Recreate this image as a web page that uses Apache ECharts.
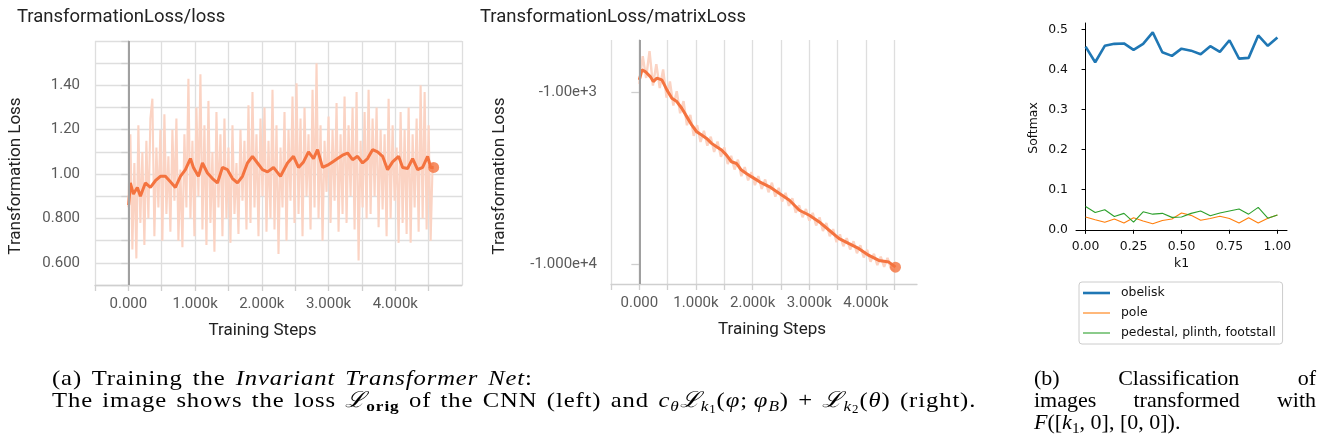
<!DOCTYPE html>
<html><head><meta charset="utf-8">
<script src="https://cdn.jsdelivr.net/npm/echarts@6/dist/echarts.min.js"></script>
<style>
html,body{margin:0;padding:0;background:#fff;}
#c{position:absolute;left:0;top:0;width:1320px;height:445px;}
.cap{position:absolute;font-family:'Liberation Serif','Times New Roman',serif;font-size:22px;line-height:22px;color:#000;white-space:nowrap;transform-origin:0 50%;}
.cap sub{font-size:0.7em;vertical-align:-0.25em;line-height:0;}
.cap sub sub{font-size:0.75em;vertical-align:-0.2em;}
.just{white-space:normal;text-align:justify;text-align-last:justify;}
</style></head><body>
<div id="c"></div>
<div class="cap" id="a1" style="left:52px;top:367px">(a) Training the <i>Invariant Transformer Net</i>:</div>
<div class="cap" id="a2" style="left:52px;top:389px">The image shows the loss <i>ℒ</i><sub><b>orig</b></sub> of the CNN (left) and <i>c</i><sub><i>θ</i></sub><i>ℒ</i><sub><i>k</i><sub>1</sub></sub>(<i>φ</i>;&#8201;<i>φ</i><sub><i>B</i></sub>) + <i>ℒ</i><sub><i>k</i><sub>2</sub></sub>(<i>θ</i>) (right).</div>
<div class="cap just" id="b1" style="left:1034px;top:367px;width:282px">(b) Classification of</div>
<div class="cap just" id="b2" style="left:1034px;top:389px;width:282px">images transformed with</div>
<div class="cap" id="b3" style="left:1034px;top:411px"><i>F</i>([<i>k</i><sub>1</sub>, 0], [0, 0]).</div>
<script>
// ---------- Panel 1: TransformationLoss/loss ----------
const lossRawStepInterval = 30;
const lossRaw = [
 0.85,1.18,0.66,1.05,0.62,1.22,0.78,1.10,0.68,1.15,
 0.80,1.25,1.34,0.72,1.12,0.85,1.20,0.70,1.27,0.82,
 1.08,0.74,1.20,0.88,1.25,0.70,1.02,0.67,1.18,0.85,
 1.43,0.80,1.15,0.72,1.30,0.90,1.45,0.75,1.22,0.68,
 1.33,0.78,1.10,0.65,1.28,0.85,1.18,0.72,1.25,0.80,
 1.12,0.69,1.22,0.82,1.05,0.73,1.20,0.88,1.15,0.75,
 1.31,0.78,1.37,0.85,1.18,0.72,1.25,0.90,1.30,0.74,
 1.15,0.80,1.38,0.75,1.22,0.64,1.12,0.85,1.28,0.70,
 1.20,0.88,1.35,0.78,1.41,0.82,1.25,0.72,1.30,0.90,
 1.18,0.75,1.38,0.85,1.50,0.80,1.22,0.70,1.15,0.92,
 1.26,0.78,1.20,0.88,1.32,0.74,1.18,0.82,1.35,0.78,
 1.22,0.90,1.30,0.75,1.37,0.61,1.15,0.85,1.28,0.80,
 1.38,0.82,1.25,0.90,1.30,0.76,1.20,0.84,1.18,0.72,
 1.34,0.80,1.22,0.88,1.12,0.69,1.28,0.78,1.20,0.73,
 1.30,0.69,1.18,0.85,1.25,0.74,1.40,0.80,1.37,0.75,
 1.22,0.70,1.05
];
const lossSmoothSteps = [5,30,75,135,180,255,330,405,480,555,630,705,780,855,930,975,1050,1110,1185,1260,1335,1410,1485,1560,1635,1710,1785,1860,1935,2010,2085,2175,2280,2385,2475,2550,2625,2700,2775,2835,2910,2985,3060,3135,3210,3285,3360,3435,3510,3585,3660,3735,3810,3885,3960,4050,4110,4185,4260,4335,4410,4485,4530,4575];
const lossSmooth = [0.86,0.96,0.91,0.94,0.90,0.96,0.94,0.97,0.99,0.99,0.965,0.94,0.99,1.02,1.07,1.03,0.99,1.05,1.005,0.98,0.96,1.03,1.02,0.98,0.96,0.99,1.05,1.08,1.05,1.02,1.01,1.03,0.99,1.05,1.08,1.03,1.055,1.10,1.07,1.11,1.03,1.04,1.055,1.07,1.085,1.095,1.065,1.08,1.05,1.07,1.11,1.10,1.08,1.02,1.055,1.08,1.03,1.025,1.07,1.02,1.03,1.08,1.03,1.03];
const lossYTicks = {6:'0.600',8:'0.800',10:'1.00',12:'1.20',14:'1.40'};

// ---------- Panel 2: TransformationLoss/matrixLoss ----------
const matRawStepInterval = 60;
const matRaw = [
 -900,-620,-830,-580,-920,-690,-950,-740,-1080,-870,
 -1200,-990,-1330,-1130,-1560,-1360,-1800,-1560,-1950,-1680,
 -2050,-1820,-2230,-1940,-2380,-2100,-2620,-2350,-2820,-2470,
 -3080,-2730,-3260,-2920,-3470,-3080,-3650,-3220,-3820,-3360,
 -4050,-3600,-4320,-3850,-4580,-4140,-5020,-4540,-5330,-4780,
 -5580,-5030,-5950,-5340,-6400,-5760,-6870,-6250,-7430,-6700,
 -7850,-7050,-8200,-7350,-8620,-7750,-9120,-8230,-9650,-8680,
 -10100,-9020,-10350,-9170,-10600,-10900
];
const matSmoothSteps = [0,47,105,193,246,310,398,486,574,661,749,837,924,1012,1100,1187,1275,1363,1451,1538,1626,1714,1801,1889,1977,2122,2298,2473,2649,2824,3000,3175,3350,3526,3701,3876,4052,4227,4403,4520];
const matSmooth = [-851,-745,-762,-815,-871,-832,-851,-973,-1088,-1138,-1244,-1391,-1555,-1702,-1779,-1860,-1988,-2080,-2174,-2325,-2541,-2600,-2840,-2970,-3100,-3322,-3553,-3885,-4249,-4856,-5192,-5677,-6343,-7091,-7585,-8111,-8872,-9490,-9700,-10380];
const matYLabels = {1000:'-1.00e+3',10000:'-1.000e+4'};

// ---------- Panel 3: softmax vs k1 ----------
const k1 = [0,0.05,0.1,0.15,0.2,0.25,0.3,0.35,0.4,0.45,0.5,0.55,0.6,0.65,0.7,0.75,0.8,0.85,0.9,0.95,1.0];
const obelisk = [0.457,0.418,0.459,0.464,0.465,0.449,0.464,0.4925,0.443,0.434,0.452,0.447,0.438,0.458,0.444,0.473,0.427,0.429,0.485,0.459,0.480];
const pole = [0.032,0.025,0.019,0.027,0.017,0.030,0.022,0.015,0.023,0.027,0.042,0.036,0.024,0.028,0.034,0.028,0.017,0.030,0.017,0.029,0.037];
const pedestal = [0.058,0.043,0.050,0.033,0.041,0.019,0.045,0.039,0.041,0.031,0.032,0.041,0.047,0.035,0.042,0.047,0.052,0.039,0.056,0.029,0.037];
const softTicksX = [0,0.25,0.5,0.75,1.0];
const softTicksY = [0,0.1,0.2,0.3,0.4,0.5];

// ---------- styling constants ----------
const TB_ORANGE = '#f4733f';
const TB_RAW = '#fbd3c3';
const GRID_C = '#dedede';
const LAB_C = '#5a5a5a';
const roboto = 'Roboto, "Open Sans", sans-serif';
const dv = '"DejaVu Sans", sans-serif';
const MPL_FS = 12.4;

function stepFmt(v){
  if (v < 0 || v % 1000 !== 0 || v >= 5000) return '';
  return v === 0 ? '0.000' : (v/1000).toFixed(3) + 'k';
}
function tbX(gi, max, namePad){
  return {
    type:'value', gridIndex:gi, min:-500, max:max, interval:500,
    axisLine:{show:true, lineStyle:{color:'#cfcfcf', width:1.3}},
    axisTick:{show:true, length:6, lineStyle:{color:'#cfcfcf', width:1.3}},
    axisLabel:{formatter:stepFmt, color:LAB_C, fontFamily:roboto, fontSize:15, margin:12, showMaxLabel:false},
    splitLine:{show:true, showMaxLine: gi===0, lineStyle:{color:GRID_C, width:1.3}},
    name:'Training Steps', nameLocation:'middle', nameGap:37,
    nameTextStyle:{color:'#222', fontFamily:roboto, fontSize:17, padding:namePad}
  };
}
const zeroLine = {
  silent:true, symbol:['none','none'], label:{show:false},
  lineStyle:{color:'#a0a0a0', width:2, type:'solid'},
  data:[{xAxis:0}]
};
const legendNames = ['obelisk','pole','pedestal, plinth, footstall'];
const legendIcons = ['path://M0,0H27V2.6H0Z','path://M0,0H27V1.1H0Z','path://M0,0H27V1.1H0Z'];

const option = {
  animation:false,
  backgroundColor:'#fff',
  title:[
    {text:'TransformationLoss/loss', left:12, top:3, textStyle:{fontFamily:roboto, fontSize:18.5, fontWeight:'normal', color:'#222'}},
    {text:'TransformationLoss/matrixLoss', left:475, top:3, textStyle:{fontFamily:roboto, fontSize:18.5, fontWeight:'normal', color:'#222'}}
  ],
  grid:[
    {left:95, top:41, width:367, height:244},
    {left:611, top:40, width:306, height:244},
    {left:1076, top:23, width:211, height:210}
  ],
  legend:{
    data:legendNames.map((n,i)=>({name:n, icon:legendIcons[i]})),
    orient:'vertical', left:1079, top:282,
    itemWidth:27, itemHeight:14, itemGap:6, symbolKeepAspect:true,
    padding:[4,7,4,4],
    borderColor:'#cccccc', borderWidth:1, borderRadius:3,
    textStyle:{fontFamily:dv, fontSize:MPL_FS, lineHeight:14, color:'#111', padding:[0,0,0,6]}
  },
  xAxis:[
    tbX(0, 5000, [0,32,0,0]),
    tbX(1, 4900, [0,0,0,16]),
    {
      type:'value', gridIndex:2, min:-0.05, max:1.05,
      axisLine:{show:true, lineStyle:{color:'#000', width:1}},
      axisTick:{show:true, length:4, customValues:softTicksX, lineStyle:{color:'#000', width:1}},
      axisLabel:{customValues:softTicksX, formatter:v=>v.toFixed(2), color:'#111', fontFamily:dv, fontSize:MPL_FS, margin:8},
      splitLine:{show:false},
      name:'k1', nameLocation:'middle', nameGap:25,
      nameTextStyle:{color:'#111', fontFamily:dv, fontSize:MPL_FS}
    }
  ],
  yAxis:[
    {
      type:'value', gridIndex:0, min:0.5, max:1.6, interval:0.1,
      axisLine:{show:true, lineStyle:{color:'#cfcfcf', width:1.3}},
      axisTick:{show:true, length:7, lineStyle:{color:'#cfcfcf', width:1.3}},
      axisLabel:{formatter:v=>lossYTicks[Math.round(v*10)]||'', color:LAB_C, fontFamily:roboto, fontSize:15, margin:15},
      splitLine:{show:true, lineStyle:{color:GRID_C, width:1.3}},
      name:'Transformation Loss', nameLocation:'middle', nameRotate:90, nameGap:71,
      nameTextStyle:{color:'#222', fontFamily:roboto, fontSize:17, padding:[0,26,0,0]}
    },
    {
      type:'log', logBase:10, gridIndex:1, min:500, max:13000, inverse:true,
      axisLine:{show:true, lineStyle:{color:'#cfcfcf', width:1.3}},
      axisTick:{show:true, length:8, customValues:[1000,10000], lineStyle:{color:'#cfcfcf', width:1.3}},
      axisLabel:{customValues:[1000,10000], formatter:v=>matYLabels[Math.round(v)]||'', color:LAB_C, fontFamily:roboto, fontSize:15, margin:14},
      splitLine:{show:true, showMinLine:false, showMaxLine:false, lineStyle:{color:GRID_C, width:1.3}},
      name:'Transformation Loss', nameLocation:'middle', nameRotate:90, nameGap:103,
      nameTextStyle:{color:'#222', fontFamily:roboto, fontSize:17, padding:[0,28,0,0]}
    },
    {
      type:'value', gridIndex:2, min:-0.008, max:0.516,
      axisLine:{show:true, lineStyle:{color:'#000', width:1}},
      axisTick:{show:true, length:4, customValues:softTicksY, lineStyle:{color:'#000', width:1}},
      axisLabel:{customValues:softTicksY, formatter:v=>v.toFixed(1), color:'#111', fontFamily:dv, fontSize:MPL_FS, margin:8},
      splitLine:{show:false},
      name:'Softmax', nameLocation:'middle', nameRotate:90, nameGap:36,
      nameTextStyle:{color:'#111', fontFamily:dv, fontSize:MPL_FS}
    }
  ],
  series:[
    {type:'line', xAxisIndex:0, yAxisIndex:0, symbol:'none', silent:true,
     lineStyle:{color:TB_RAW, width:2.1}, data:lossRaw.map((v,i)=>[i*lossRawStepInterval, v]), z:2},
    {type:'line', xAxisIndex:0, yAxisIndex:0, symbol:'none', silent:true,
     lineStyle:{color:TB_ORANGE, width:3}, data:lossSmoothSteps.map((s,i)=>[s, lossSmooth[i]]), z:3,
     markLine:zeroLine},
    {type:'scatter', xAxisIndex:0, yAxisIndex:0, symbolSize:11, itemStyle:{color:TB_ORANGE}, z:4,
     data:[[lossSmoothSteps[lossSmoothSteps.length-1], lossSmooth[lossSmooth.length-1]]]},

    {type:'line', xAxisIndex:1, yAxisIndex:1, symbol:'none', silent:true,
     lineStyle:{color:TB_RAW, width:2.4}, data:matRaw.map((v,i)=>[i*matRawStepInterval, Math.abs(v)]), z:2},
    {type:'line', xAxisIndex:1, yAxisIndex:1, symbol:'none', silent:true,
     lineStyle:{color:TB_ORANGE, width:3}, data:matSmoothSteps.map((s,i)=>[s, Math.abs(matSmooth[i])]), z:3,
     markLine:zeroLine},
    {type:'scatter', xAxisIndex:1, yAxisIndex:1, symbolSize:11, itemStyle:{color:TB_ORANGE}, z:4,
     data:[[matSmoothSteps[matSmoothSteps.length-1], Math.abs(matSmooth[matSmooth.length-1])]]},

    {name:legendNames[0], type:'line', xAxisIndex:2, yAxisIndex:2, symbol:'none',
     lineStyle:{color:'#1f77b4', width:2.6}, itemStyle:{color:'#1f77b4'}, data:k1.map((x,i)=>[x, obelisk[i]])},
    {name:legendNames[1], type:'line', xAxisIndex:2, yAxisIndex:2, symbol:'none',
     lineStyle:{color:'#ff7f0e', width:1.1}, itemStyle:{color:'#ff7f0e'}, data:k1.map((x,i)=>[x, pole[i]])},
    {name:legendNames[2], type:'line', xAxisIndex:2, yAxisIndex:2, symbol:'none',
     lineStyle:{color:'#2ca02c', width:1.1}, itemStyle:{color:'#2ca02c'}, data:k1.map((x,i)=>[x, pedestal[i]])}
  ]
};
const chart = echarts.init(document.getElementById('c'), null, {renderer:'canvas'});
chart.setOption(option);

// fit caption line widths: LaTeX's Computer Modern is wider than Times,
// so widen glyphs a little and spread the remainder over letters and word spaces
function fit(id, target){
  const el = document.getElementById(id);
  const txt = el.textContent;
  const n = txt.length;
  const spaces = (txt.match(/ /g) || []).length;
  const w0 = el.offsetWidth;
  const s = Math.min(1.12, target / w0);
  el.style.transform = 'scaleX(' + s + ')';
  const rem = target / s - w0;            // in unscaled px
  el.style.wordSpacing = (rem * 0.3 / Math.max(1, spaces)) + 'px';
  const w1 = el.offsetWidth;
  el.style.letterSpacing = ((target / s - w1) / Math.max(1, n - 1)) + 'px';
}
fit('a1', 480);
fit('a2', 923);
</script>
</body></html>
